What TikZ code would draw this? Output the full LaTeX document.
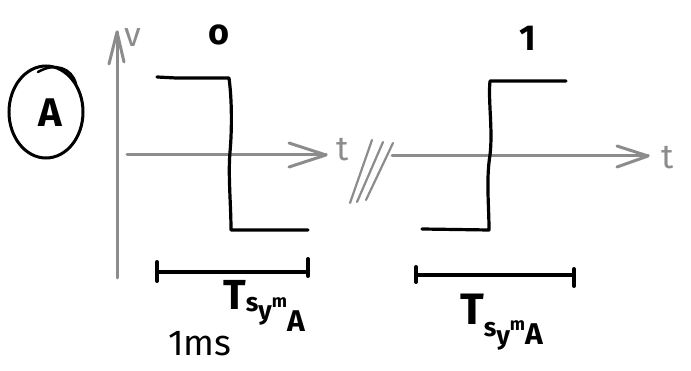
\documentclass[tikz,border=0pt]{standalone}
\usepackage{fontspec}
\setmainfont{Fira Sans}
\begin{document}
\begin{tikzpicture}[x=1pt,y=-1pt,
  axis/.style={draw=axgray,line width=3pt,line cap=round,line join=round},
  sig/.style={draw=black,line width=3.2pt,line cap=round,line join=round},
  graylbl/.style={text=axgray,inner sep=0pt,font=\fontsize{34}{34}\selectfont},
  blklbl/.style={text=black,inner sep=0pt},
  tsym/.style={inner sep=0pt,text=black}]
\definecolor{axgray}{RGB}{140,140,140}
\fill[white] (0,0) rectangle (691,371);
% left axes
\coordinate (vbot) at (117,278);
\coordinate (vtop) at (117,32);
\draw[axis] (vbot) -- (vtop);
\draw[axis] (109,64) -- (vtop) -- (124,62);
\node[graylbl,font=\fontsize{34}{34}\selectfont] (v) at (133,38) {v};
\coordinate (h1s) at (127,155);
\coordinate (h1e) at (326,155);
\draw[axis] (h1s) -- (h1e);
\draw[axis] (289,143) -- (h1e) -- (289,167);
\node[graylbl] (t1) at (343,150) {t};
% break marks
\draw[axis,line width=2.2pt] (350,203) -- (372,140);
\draw[axis,line width=2.2pt] (357,202) -- (383,142);
\draw[axis,line width=2.2pt] (366,200) -- (393,143);
% right axis
\coordinate (h2s) at (392,156);
\coordinate (h2e) at (648,156);
\draw[axis] (h2s) -- (h2e);
\draw[axis] (617,146) -- (h2e) -- (617,167);
\node[graylbl] (t2) at (668,158) {t};
% circled A
\draw[black,line width=3pt] (46,112) ellipse [x radius=37,y radius=46];
\draw[black,line width=2.5pt,line cap=round] (38,72) .. controls (55,62) and (72,68) .. (76,84);
\node[blklbl,font=\bfseries\fontsize{40}{40}\selectfont] (A) at (50,113) {A};
% bit labels
\node[blklbl,font=\bfseries\fontsize{36}{36}\selectfont] (zero) at (219,35) {o};
\node[blklbl,font=\bfseries\fontsize{36}{36}\selectfont] (one) at (528,38) {1};
% signal 0
\draw[sig] (157,77) -- (176,78) -- (229,78) .. controls (232,100) and (232,130) .. (230,152)
  .. controls (228,175) and (231,205) .. (231,230) -- (308,230);
% signal 1
\draw[sig] (422,229) -- (489,230) .. controls (489,205) and (486,180) .. (490,155)
  .. controls (493,130) and (488,100) .. (490,81) -- (566,81);
% brackets
\coordinate (b1l) at (157,272);
\coordinate (b1r) at (308,272);
\draw[sig] (b1l) -- (b1r);
\draw[sig,line width=4pt] (157,262) -- (157,281);
\draw[sig,line width=4pt] (308,259) -- (308,276);
\coordinate (b2l) at (416,275);
\coordinate (b2r) at (574,275);
\draw[sig] (b2l) -- (b2r);
\draw[sig,line width=4pt] (416,267) -- (416,282);
\draw[sig,line width=4pt] (574,269) -- (574,286);
% T sym A labels
\node[tsym,anchor=north west,font=\bfseries] (ts1) at (223,280) {\fontsize{42}{42}\selectfont T\raisebox{-2pt}{\fontsize{26}{26}\selectfont s\raisebox{-8pt}{y}\raisebox{4pt}{\fontsize{18}{18}\selectfont m}\raisebox{-20pt}{\fontsize{30}{30}\selectfont A}}};
\node[tsym,anchor=north west,font=\bfseries] (ts2) at (460,294) {\fontsize{44}{44}\selectfont T\raisebox{-12pt}{\fontsize{26}{26}\selectfont s\raisebox{-8pt}{y}\raisebox{6pt}{\fontsize{18}{18}\selectfont m}\raisebox{-8pt}{\fontsize{30}{30}\selectfont A}}};
\node[blklbl,font=\fontsize{36}{36}\selectfont,anchor=west] (ms) at (168,344) {1ms};
\end{tikzpicture}
\end{document}
